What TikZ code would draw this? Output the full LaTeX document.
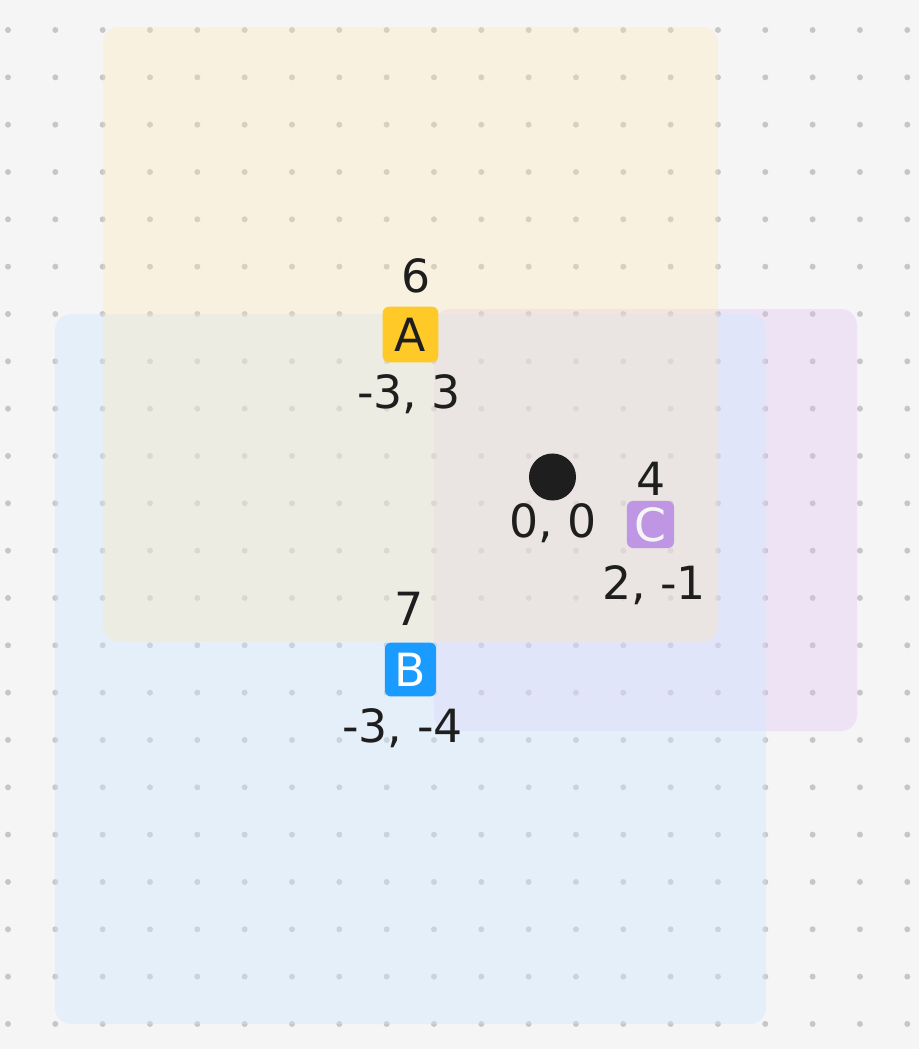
\documentclass[tikz,border=0pt]{standalone}
\usepackage{fontspec}
\setmainfont{DejaVu Sans}
\definecolor{bgc}{HTML}{F5F5F5}
\definecolor{dotc}{HTML}{C6C6C6}
\definecolor{txt}{HTML}{1E1E1E}
\definecolor{yelz}{RGB}{255,232,175}
\definecolor{bluz}{RGB}{207,232,255}
\definecolor{purz}{RGB}{225,188,245}
\definecolor{nodeA}{HTML}{FFCA28}
\definecolor{nodeB}{HTML}{1A9BFF}
\definecolor{nodeC}{HTML}{BE96E4}
\tikzset{
  zone/.style={rounded corners=0.34cm},
  lbl/.style={anchor=base, inner sep=0pt, text=txt, font=\fontsize{27.5}{32}\selectfont},
  tag/.style={rounded corners=0.13cm, inner sep=0pt, font=\fontsize{27.5}{32}\selectfont},
}
\begin{document}
\begin{tikzpicture}[x=0.021128cm,y=-0.021128cm]
\useasboundingbox (0,0) rectangle (919,1049);
\fill[bgc] (0,0) rectangle (919,1049);
\foreach \i in {0,...,19}{\foreach \j in {0,...,21}{
  \fill[dotc] ({8+47.33*\i},{30+47.33*\j}) circle[radius=0.063cm];}}
\fill[zone, fill=purz, fill opacity=0.3] (434,309) rectangle (857,731);
\fill[zone, fill=bluz, fill opacity=0.4] (55,314) rectangle (766,1024);
\fill[zone, fill=yelz, fill opacity=0.3] (103,27) rectangle (718,642);
% nodes
\node[tag, fill=nodeA, text=txt, minimum width=1.175cm, minimum height=1.175cm] (A) at (410.5,334.5) {A};
\node[tag, fill=nodeB, text=white, minimum width=1.08cm, minimum height=1.14cm] (B) at (410.5,669.5) {B};
\node[tag, fill=nodeC, text=bgc, minimum width=0.995cm, minimum height=0.995cm] (C) at (650.5,524.5) {C};
\fill[txt] (552.5,477) circle[radius=0.497cm];
\node[inner sep=0pt, minimum size=0.99cm] (O) at (552.5,477) {};
% labels
\node[lbl] (a6) at (416,292) {6};
\node[lbl] (acoord) at (409,408) {-3, 3};
\node[lbl] (ocoord) at (553,537) {0, 0};
\node[lbl] (c4) at (651,495) {4};
\node[lbl] (ccoord) at (654,599) {2, -1};
\node[lbl] (b7) at (409.5,625) {7};
\node[lbl] (bcoord) at (402.5,742) {-3, -4};
\end{tikzpicture}
\end{document}
